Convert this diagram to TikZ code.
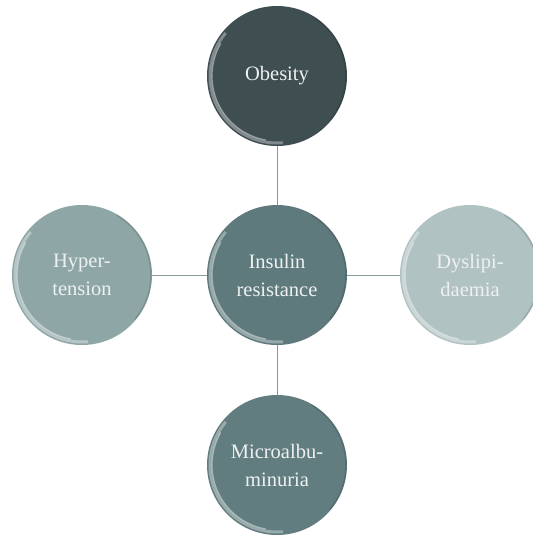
\documentclass[tikz,border=0pt]{standalone}
\usepackage{fontspec}
\setmainfont{Liberation Serif}
\definecolor{cTop}{HTML}{3E4E51}
\definecolor{cMid}{HTML}{5F7A7D}
\definecolor{cLeft}{HTML}{8FA6A6}
\definecolor{cRight}{HTML}{B0C2C2}
\definecolor{cBot}{HTML}{627D80}
\definecolor{cText}{HTML}{EEF1F1}
\definecolor{cLine}{HTML}{8A9A9A}
\tikzset{
  bubble/.style={circle, minimum size=140pt, inner sep=0pt, text=cText,
    font=\fontsize{20.5}{28}\selectfont, align=center,
    path picture={
      \draw[white, opacity=0.35, line width=3pt]
        ([shift={(140:67pt)}]path picture bounding box.center)
        arc[start angle=140, end angle=275, radius=67pt];
      \draw[white, opacity=0.45, line width=1.2pt]
        ([shift={(150:65pt)}]path picture bounding box.center)
        arc[start angle=150, end angle=260, radius=65pt];
      \draw[black, opacity=0.12, line width=1.5pt]
        ([shift={(-40:69pt)}]path picture bounding box.center)
        arc[start angle=-40, end angle=60, radius=69pt];
    }},
  link/.style={draw=cLine, line width=0.9pt}
}
\begin{document}
\begin{tikzpicture}[x=1pt,y=-1pt]
\useasboundingbox (0,0) rectangle (533,539);
\coordinate (pc) at (277,275);
\coordinate (pt) at (277,76);
\coordinate (pl) at (82,275);
\coordinate (pr) at (470,275);
\coordinate (pb) at (277,465);
\draw[link] (pc) -- (pt);
\draw[link] (pc) -- (pl);
\draw[link] (pc) -- (pr);
\draw[link] (pc) -- (pb);
\node[bubble, fill=cMid] (c) at (pc) {Insulin\\resistance};
\node[bubble, fill=cTop] (t) at (pt) {Obesity};
\node[bubble, fill=cLeft] (l) at (pl) {Hyper-\\tension};
\node[bubble, fill=cRight] (r) at (pr) {Dyslipi-\\daemia};
\node[bubble, fill=cBot] (b) at (pb) {Microalbu-\\minuria};
\end{tikzpicture}
\end{document}
